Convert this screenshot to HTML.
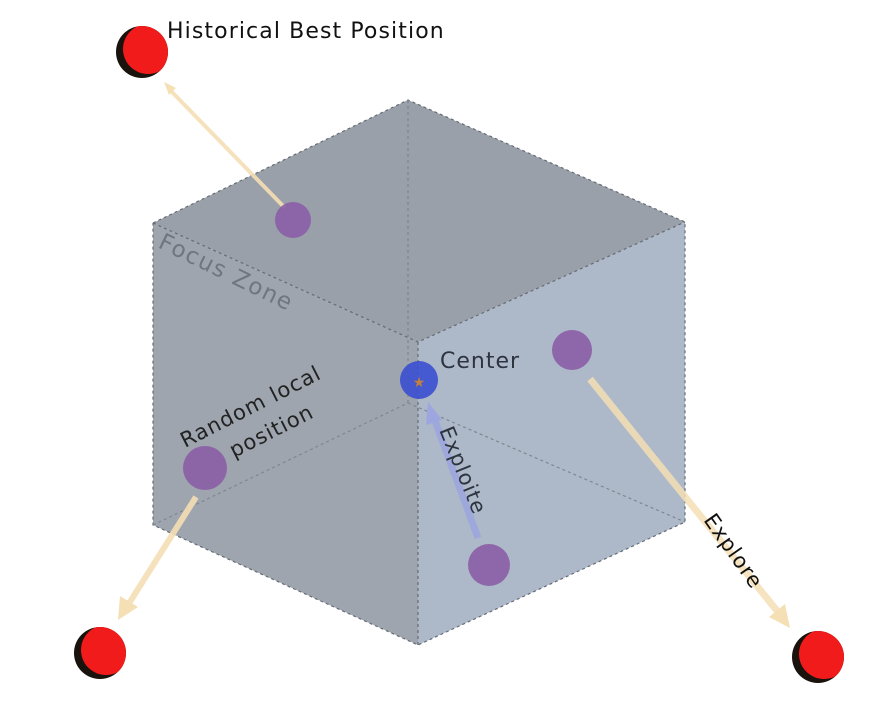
<!DOCTYPE html>
<html><head><meta charset="utf-8"><style>
html,body{margin:0;padding:0;background:#fff}
svg{display:block}
text{font-family:"DejaVu Sans","Liberation Sans",sans-serif}
</style></head><body>
<svg width="872" height="701" viewBox="0 0 872 701">
<defs>
<clipPath id="c1"><circle cx="142" cy="52" r="26"/></clipPath>
<clipPath id="c2"><circle cx="100" cy="653" r="26"/></clipPath>
<clipPath id="c3"><circle cx="818" cy="657" r="26"/></clipPath>
</defs>
<g>
<polygon points="408,100 685,222 418,342 153,223" fill="#9aa0a9"/>
<polygon points="153,223 418,342 418,645 153,525" fill="#9ea5ae"/>
<polygon points="418,342 685,222 685,522 418,645" fill="#adb9c9"/>
<g stroke="#666c75" stroke-width="1.2" stroke-dasharray="3,3" fill="none">
<polyline points="153,223 408,100 685,222 685,522 418,645 153,525 153,223"/>
<polyline points="153,223 418,342 685,222"/>
<line x1="418" y1="342" x2="418" y2="645"/>
<line x1="408" y1="100" x2="408" y2="403" stroke="#80868f"/>
<line x1="153" y1="525" x2="408" y2="403" stroke="#80868f"/>
<line x1="408" y1="403" x2="685" y2="522" stroke="#80868f"/>
</g>
</g>
<text x="157" y="247" transform="rotate(26 157 247)" font-size="23" letter-spacing="1.5" fill="#6f7680">Focus Zone</text>
<g stroke-linecap="butt">
<line x1="285" y1="208" x2="170" y2="90" stroke="#f5dfb5" stroke-width="4" opacity="0.9"/>
<polygon points="164,82 176,88 169,95" fill="#f5dfb5"/>
<line x1="196" y1="497" x2="128" y2="605" stroke="#f5dfb5" stroke-width="6" opacity="0.9"/>
<polygon points="118,620 120,596 138,607" fill="#f5dfb5"/>
<line x1="590" y1="379" x2="778" y2="612" stroke="#f5dfb5" stroke-width="7" opacity="0.85"/>
<polygon points="790,628 769,617 785,604" fill="#f5dfb5"/>
<line x1="478" y1="538" x2="434" y2="418" stroke="#9da6de" stroke-width="7" opacity="0.85"/>
<polygon points="428,402 442,420 426,425" fill="#9da6de"/>
</g>
<g fill="#8a5ea6" opacity="0.9">
<circle cx="293" cy="220" r="18"/>
<circle cx="572" cy="350" r="20"/>
<circle cx="205" cy="468" r="22"/>
<circle cx="489" cy="565" r="21"/>
</g>
<g>
<circle cx="419" cy="380" r="19" fill="#3a4fd0" opacity="0.9"/>
<text x="419" y="387" font-size="14" text-anchor="middle" fill="#c08040">★</text>
</g>
<g>
<g><circle cx="142" cy="52" r="26" fill="#1a120c"/><circle cx="148" cy="49" r="25" fill="#f21b1b" clip-path="url(#c1)"/></g>
<g><circle cx="100" cy="653" r="26" fill="#1a120c"/><circle cx="106" cy="650" r="25" fill="#f21b1b" clip-path="url(#c2)"/></g>
<g><circle cx="818" cy="657" r="26" fill="#1a120c"/><circle cx="824" cy="654" r="25" fill="#f21b1b" clip-path="url(#c3)"/></g>
</g>
<text x="167" y="38" font-size="22" letter-spacing="1.1" fill="#111">Historical Best Position</text>
<text x="440" y="368" font-size="22" letter-spacing="1" fill="#2d3440">Center</text>
<text font-size="21" letter-spacing="1" fill="#222" transform="translate(185,448) rotate(-27)">Random local</text>
<text font-size="21" letter-spacing="1" fill="#222" transform="translate(234,458) rotate(-27)">position</text>
<text font-size="21" letter-spacing="1" fill="#2d3440" transform="translate(439,430) rotate(68)">Exploite</text>
<text font-size="21" letter-spacing="1" fill="#111" transform="translate(703,520) rotate(55)">Explore</text>
</svg>
</body></html>
